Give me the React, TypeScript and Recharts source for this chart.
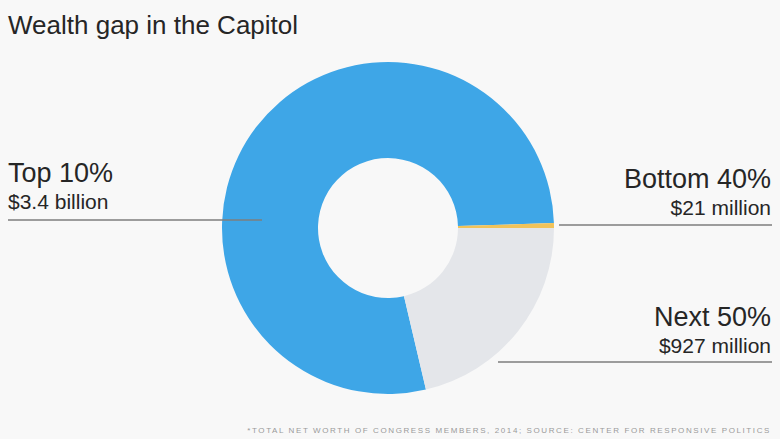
import { PieChart, Pie, Cell } from "recharts";

const groups = ["Top 10%", "Next 50%", "Bottom 40%"];
const netWorth = [3400, 927, 21]; // millions of dollars
const worthLabels = ["$3.4 billion", "$927 million", "$21 million"];
const colors = ["#3ea6e7", "#e4e6ea", "#f1c35a"];

const data = groups.map((name, i) => ({ name, value: netWorth[i] }));

const font = "'Liberation Sans', Arial, sans-serif";

// where each group's label block and leader line sit
const labelLayout: Record<string, { x: number; anchor: "start" | "end"; y1: number; y2: number; ly: number; lx1: number; lx2: number }> = {
  "Top 10%": { x: 8, anchor: "start", y1: 182, y2: 209, ly: 220, lx1: 8, lx2: 262 },
  "Bottom 40%": { x: 771, anchor: "end", y1: 188, y2: 215, ly: 225, lx1: 559, lx2: 772 },
  "Next 50%": { x: 771, anchor: "end", y1: 326, y2: 353, ly: 362, lx1: 498, lx2: 772 },
};

export default function App() {
  return (
    <div
      style={{
        position: "absolute",
        left: 0,
        top: 0,
        width: 780,
        height: 439,
        background: "#f8f8f8",
        overflow: "hidden",
      }}
    >
      <PieChart
        width={780}
        height={439}
        margin={{ top: 0, right: 0, bottom: 0, left: 0 }}
        style={{ position: "absolute", left: 0, top: 0 }}
      >
        <Pie
          data={data}
          dataKey="value"
          nameKey="name"
          cx={388}
          cy={228}
          innerRadius={70}
          outerRadius={166}
          startAngle={1.7}
          endAngle={361.7}
          stroke="none"
          isAnimationActive={false}
        >
          {data.map((d, i) => (
            <Cell key={d.name} fill={colors[i]} />
          ))}
        </Pie>
      </PieChart>
      <svg
        width={780}
        height={439}
        style={{ position: "absolute", left: 0, top: 0, pointerEvents: "none" }}
      >
        <text x={8} y={34} fontFamily={font} fontSize={26} fill="#262626">
          Wealth gap in the Capitol
        </text>
        {groups.map((g, i) => {
          const l = labelLayout[g];
          return (
            <g key={g}>
              <text x={l.x} y={l.y1} textAnchor={l.anchor} fontFamily={font} fontSize={27} fill="#262626">
                {g}
              </text>
              <text x={l.x} y={l.y2} textAnchor={l.anchor} fontFamily={font} fontSize={21} fill="#262626">
                {worthLabels[i]}
              </text>
              <line x1={l.lx1} x2={l.lx2} y1={l.ly} y2={l.ly} stroke="#7d7d7d" strokeOpacity={0.75} strokeWidth={2} />
            </g>
          );
        })}
        <text
          x={771}
          y={433}
          textAnchor="end"
          fontFamily={font}
          fontSize={8}
          letterSpacing={1.6}
          fill="#9a9a9a"
        >
          *TOTAL NET WORTH OF CONGRESS MEMBERS, 2014; SOURCE: CENTER FOR RESPONSIVE POLITICS
        </text>
      </svg>
    </div>
  );
}
